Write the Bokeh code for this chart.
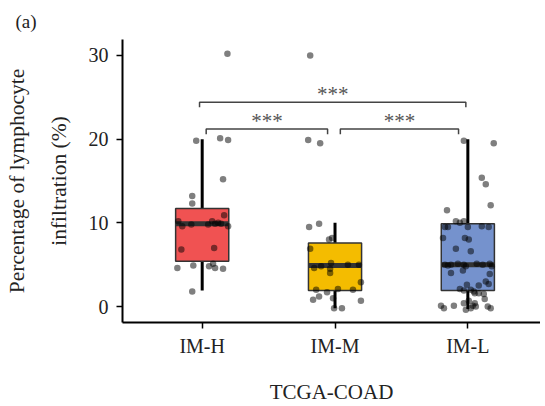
from bokeh.plotting import figure
from bokeh.models import FixedTicker, Title
from bokeh.core.properties import value
from bokeh.embed import file_html
from bokeh.resources import INLINE

# ---------------- data ----------------
groups = ["IM-H", "IM-M", "IM-L"]
box_colors = ["#F05252", "#F4BC00", "#7592CD"]
whisker_low = [1.9, -0.2, -0.3]
q1 = [5.4, 1.9, 1.9]
median = [9.9, 4.9, 5.0]
q3 = [11.7, 7.6, 9.9]
whisker_high = [20.0, 10.0, 20.0]

imh_values = [30.2, 19.8, 20.1, 19.9, 15.2, 13.2, 12.3, 10.9, 10.2, 9.6, 9.8, 9.8, 10.2,
              9.9, 10.0, 9.9, 9.6, 6.8, 7.0, 4.6, 4.9, 4.8, 5.1, 4.6, 4.5, 1.8]
imh_jitter = [0.19, -0.045, 0.135, 0.195, 0.157, -0.075, -0.075, 0.165, -0.18, -0.15, -0.082,
              0.045, 0.075, 0.097, 0.12, 0.142, 0.195, -0.157, 0.09, -0.187, -0.067, 0.052,
              0.082, 0.097, 0.157, -0.075]

imm_values = [30.0, 19.9, 19.5, 9.5, 9.9, 8.0, 8.2, 6.9, 4.6, 4.8, 5.2, 4.5, 4.0, 2.0, 1.7,
              2.1, 0.8, 1.2, 1.0, -0.2, -0.2, 5.0, 5.0, 2.9, 2.0, 0.7]
imm_jitter = [-0.187, -0.202, -0.112, -0.195, -0.12, -0.045, -0.022, -0.187, -0.157, -0.105,
              -0.03, -0.037, -0.037, -0.142, -0.06, 0.022, -0.165, -0.12, -0.015, -0.007,
              0.052, 0.097, 0.18, 0.195, 0.135, 0.195]

iml_values = [19.8, 19.5, 15.4, 14.6, 12.1, 11.5, 10.2, 10.0, 10.2, 9.5, 9.5, 9.5, 9.6, 9.5,
              8.2, 8.2, 8.0, 6.9, 6.6,
              5.0, 4.9, 5.0, 5.1, 5.0, 4.8, 5.1, 5.0, 5.1, 4.8,
              4.3, 4.0, 3.9, 3.0, 2.7, 2.5, 2.6,
              2.1, 1.9, 2.0, 1.8, 1.6, 1.6, 1.5,
              0.1, -0.2, 0.1, 0.4, 0.7, 0.1, 0.4, -0.4, -0.2, 0.0, 0.0, -0.2, 0.9]
iml_jitter = [-0.03, 0.195, 0.105, 0.135, 0.172, -0.157, -0.09, -0.06, -0.03, -0.172, -0.15,
              0.0, 0.105, 0.157, -0.187, -0.022, 0.007, -0.09, 0.022,
              -0.172, -0.15, -0.127, -0.075, -0.03, -0.015, 0.067, 0.112, 0.165, 0.18,
              -0.037, -0.127, 0.165, 0.135, 0.157, 0.082, -0.007,
              -0.06, -0.03, 0.022, 0.045, 0.052, 0.082, 0.12,
              -0.202, -0.18, -0.105, -0.03, 0.007, 0.037, 0.052, -0.015, 0.022, 0.06, 0.15,
              0.172, 0.127]

y_ticks = [0, 10, 20, 30]
sig_pairs = [(1, 3), (1, 2), (2, 3)]
sig_levels = [24.4, 21.2, 21.2]
sig_labels = ["***", "***", "***"]
title_text = "(a)"
y_label_lines = ["Percentage of lymphocyte", "infiltration (%)"]
x_label = "TCGA-COAD"

FONT = "Liberation Serif"
FS = "20px"
TXT = "#222222"

# ---------------- figure ----------------
p = figure(width=540, height=406, x_range=(0.4, 3.547), y_range=(-1.91, 31.91),
           output_backend="svg", toolbar_location=None,
           min_border_left=120, min_border_right=0, min_border_top=39, min_border_bottom=84)
p.outline_line_color = None
p.xgrid.visible = False
p.ygrid.visible = False

pos = [i + 1 for i in range(len(groups))]
half_w = 0.2

# whiskers
p.segment(x0=pos, y0=whisker_low, x1=pos, y1=whisker_high, line_color="black", line_width=3)
# boxes
p.quad(left=[x - half_w for x in pos], right=[x + half_w for x in pos], bottom=q1, top=q3,
       fill_color=box_colors, line_color="#333333", line_width=1.5)
# medians
p.segment(x0=[x - half_w for x in pos], y0=median, x1=[x + half_w for x in pos], y1=median,
          line_color="#333333", line_width=5)

# points
all_vals = [imh_values, imm_values, iml_values]
all_jit = [imh_jitter, imm_jitter, iml_jitter]
px, py = [], []
for g, vals, jit in zip(pos, all_vals, all_jit):
    for v, j in zip(vals, jit):
        px.append(g + j)
        py.append(v)
p.scatter(px, py, size=6.5, fill_color="black", fill_alpha=0.5, line_color=None)

# significance brackets
tick_drop = 0.6
for (a, b), lvl, lab in zip(sig_pairs, sig_levels, sig_labels):
    if b - a > 1:
        xa, xb = a - 0.02, b - 0.015
    else:
        xa = a + 0.03 if a == 1 else a + 0.04
        xb = b - 0.056 if b == 2 else b - 0.07
    p.multi_line(xs=[[xa, xa, xb, xb]], ys=[[lvl - tick_drop, lvl, lvl, lvl - tick_drop]],
                 line_color="#444444", line_width=1.5)
    p.text(x=[(xa + xb) / 2], y=[lvl], text=[lab], text_align="center",
           text_baseline="alphabetic", text_font=value(FONT), text_font_size="21px",
           text_color="#555555", y_offset=[-8])

# axes
for ax in (p.xaxis[0], p.yaxis[0]):
    ax.axis_line_width = 2
    ax.axis_line_color = "black"
    ax.major_tick_line_width = 1.5
    ax.major_tick_out = 6
    ax.major_tick_in = 0
    ax.minor_tick_line_color = None
    ax.major_label_text_font = FONT
    ax.major_label_text_font_size = FS
    ax.major_label_text_color = TXT
    ax.axis_label_text_font = FONT
    ax.axis_label_text_font_size = "21px"
    ax.axis_label_text_font_style = "normal"
    ax.axis_label_text_color = TXT

p.xaxis.ticker = FixedTicker(ticks=pos)
p.xaxis.major_label_overrides = {g: name for g, name in zip(pos, groups)}
p.xaxis.major_label_standoff = 6
p.xaxis.axis_label = x_label
p.xaxis.axis_label_standoff = 20

p.yaxis.ticker = FixedTicker(ticks=y_ticks)
p.yaxis.major_label_standoff = 8

# y-axis label as two stacked side titles (inner line first)
for line, so in zip(reversed(y_label_lines), [29, 4]):
    p.add_layout(Title(text=line, align="center", standoff=so,
                       text_font=FONT, text_font_size="21.5px", text_font_style="normal",
                       text_color=TXT), "left")

# panel tag
p.add_layout(Title(text=title_text, align="left", offset=-107, standoff=15,
                   text_font=FONT, text_font_size="19px", text_font_style="normal",
                   text_color=TXT), "above")

open("out.html", "w").write(file_html(p, INLINE))
